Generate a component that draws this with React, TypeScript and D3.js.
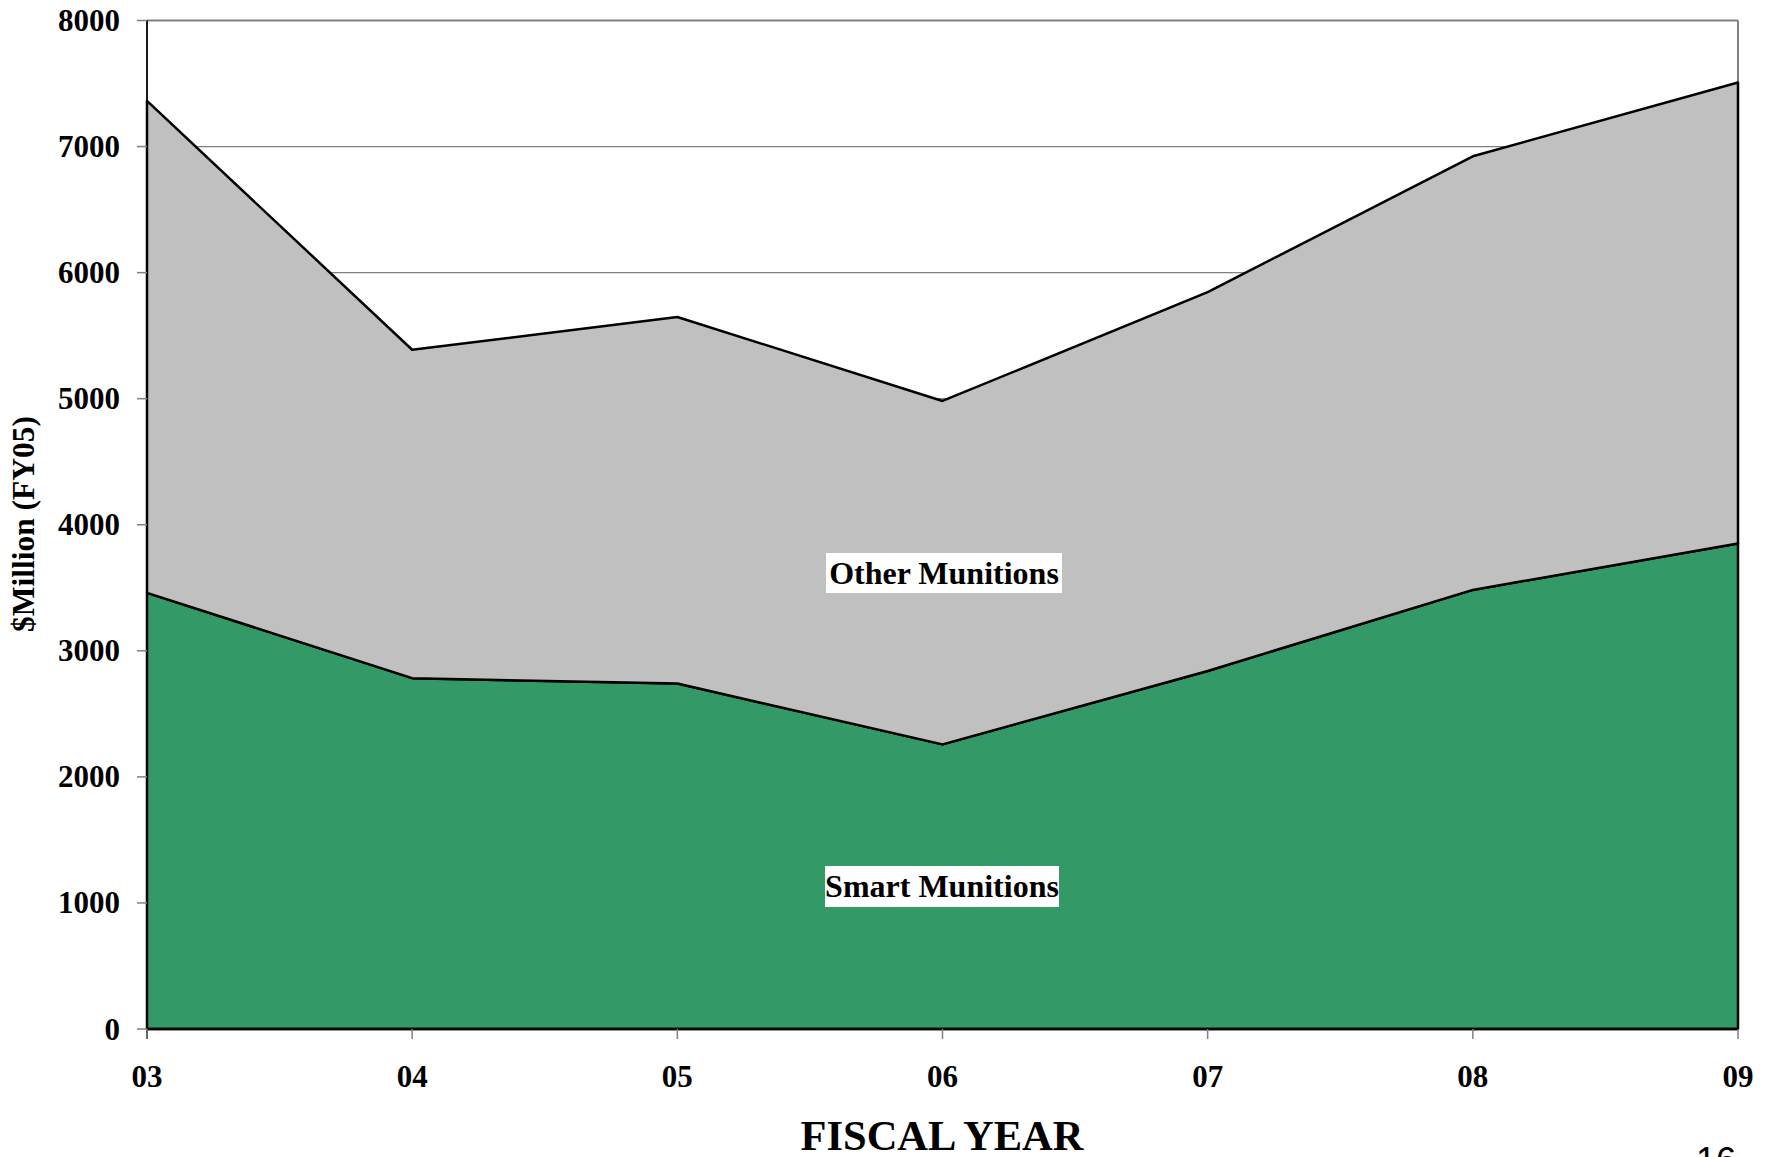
import React from "react";
import * as d3 from "d3";

const years = ["03", "04", "05", "06", "07", "08", "09"];
const smartMunitions = [3460, 2783, 2740, 2258, 2840, 3483, 3852];
const totalMunitions = [7362, 5388, 5648, 4982, 5845, 6923, 7508];
const otherMunitions = totalMunitions.map((t, i) => t - smartMunitions[i]);
const yTicks = [0, 1000, 2000, 3000, 4000, 5000, 6000, 7000, 8000];

const W = 1773;
const H = 1157;
const left = 147;
const right = 1738;
const top = 20.5;
const bottom = 1029;

export default function App() {
  const x = d3.scalePoint<string>().domain(years).range([left, right]);
  const y = d3.scaleLinear().domain([0, 8000]).range([bottom, top]);

  const rows = years.map((yr, i) => ({ yr, smart: smartMunitions[i], other: otherMunitions[i] }));
  const stack = d3.stack<any>().keys(["smart", "other"]);
  const series = stack(rows);

  const area = d3
    .area<any>()
    .x((d) => x(d.data.yr) as number)
    .y0((d) => y(d[0]))
    .y1((d) => y(d[1]));

  const fills = ["#339966", "#C0C0C0"];
  const font = "'Liberation Serif', 'Times New Roman', serif";

  return (
    <svg
      width={W}
      height={H}
      style={{ position: "absolute", left: 0, top: 0, display: "block", background: "#fff" }}
    >
      {/* gridlines */}
      {yTicks.filter((t) => t > 0).map((t) => (
        <line key={t} x1={left} x2={right} y1={y(t)} y2={y(t)} stroke="#808080" strokeWidth={t === 8000 ? 2 : 1.2} />
      ))}
      <line x1={right} x2={right} y1={top} y2={bottom} stroke="#808080" strokeWidth={2} />

      {/* areas */}
      {series.map((s, i) => (
        <path
          key={i}
          d={(area(s as any) as string) + ""}
          fill={fills[i]}
          stroke="#000"
          strokeWidth={2.5}
          strokeLinejoin="round"
        />
      ))}

      {/* axes */}
      <line x1={left} x2={left} y1={top} y2={bottom + 10} stroke="#000" strokeWidth={1.8} />
      <line x1={left} x2={right} y1={bottom} y2={bottom} stroke="#000" strokeWidth={2.5} />
      {yTicks.map((t) => (
        <g key={t}>
          <line x1={left - 10} x2={left} y1={y(t)} y2={y(t)} stroke="#808080" strokeWidth={1.5} />
          <text
            x={120}
            y={y(t)}
            textAnchor="end"
            dominantBaseline="central"
            fontFamily={font}
            fontWeight="bold"
            fontSize={31}
            fill="#000"
          >
            {t}
          </text>
        </g>
      ))}
      {years.map((yr) => (
        <g key={yr}>
          <line x1={x(yr)} x2={x(yr)} y1={bottom} y2={bottom + 10} stroke="#808080" strokeWidth={1.5} />
          <text
            x={x(yr)}
            y={1087}
            textAnchor="middle"
            fontFamily={font}
            fontWeight="bold"
            fontSize={31}
            fill="#000"
          >
            {yr}
          </text>
        </g>
      ))}

      {/* axis titles */}
      <text
        transform={`translate(34, 524) rotate(-90)`}
        textAnchor="middle"
        fontFamily={font}
        fontWeight="bold"
        fontSize={31.5}
        fill="#000"
      >
        $Million (FY05)
      </text>
      <text x={942} y={1150} textAnchor="middle" fontFamily={font} fontWeight="bold" fontSize={42.5} fill="#000">
        FISCAL YEAR
      </text>

      {/* series labels */}
      <rect x={826} y={553} width={236} height={40} fill="#fff" />
      <text x={944} y={584} textAnchor="middle" fontFamily={font} fontWeight="bold" fontSize={32} fill="#000">
        Other Munitions
      </text>
      <rect x={825} y={866} width={234} height={41} fill="#fff" />
      <text x={942} y={897} textAnchor="middle" fontFamily={font} fontWeight="bold" fontSize={32} fill="#000">
        Smart Munitions
      </text>

      {/* page number */}
      <text x={1716} y={1173} textAnchor="middle" fontFamily="'Liberation Sans', Arial, sans-serif" fontSize={36} fill="#000">
        16
      </text>
    </svg>
  );
}
